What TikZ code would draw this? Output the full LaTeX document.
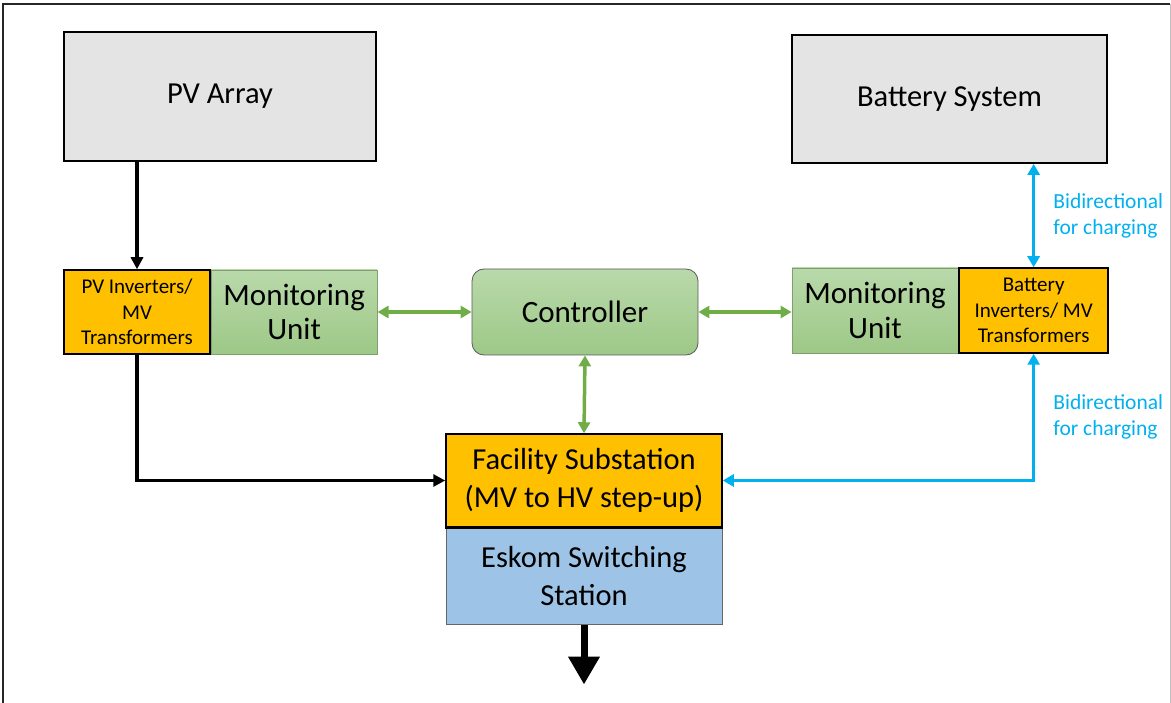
\documentclass[tikz,border=0pt]{standalone}
\usepackage{fontspec}
\setmainfont{Carlito}
\usetikzlibrary{positioning,arrows.meta,calc}

\definecolor{boxgray}{HTML}{E4E4E4}
\definecolor{amber}{HTML}{FFC000}
\definecolor{leafup}{HTML}{B9D9AA}
\definecolor{leafdown}{HTML}{9DC887}
\definecolor{leafedge}{HTML}{7F9F70}
\definecolor{leafline}{HTML}{70AD47}
\definecolor{skyline}{HTML}{00B0F0}
\definecolor{paleblue}{HTML}{9DC3E6}

\begin{document}
\begin{tikzpicture}[
x=1pt, y=-1pt,
block/.style={
  draw=black,
  line width=1.8pt,
  fill=boxgray,
  inner sep=0pt,
  align=center,
  font=\fontsize{30.5}{36}\selectfont
  },
inverter/.style={
  draw=black,
  line width=1.5pt,
  fill=amber,
  inner sep=0pt,
  align=center,
  font=\fontsize{21}{25.5}\selectfont
  },
monitor/.style={
  draw=leafedge,
  line width=0.8pt,
  top color=leafup,
  bottom color=leafdown,
  inner sep=0pt,
  align=center,
  minimum width=166pt,
  minimum height=84pt,
  font=\fontsize{31}{34.5}\selectfont
  },
station/.style={
  draw=black,
  line width=1.5pt,
  inner sep=0pt,
  align=center,
  minimum width=276pt,
  font=\fontsize{30.5}{37.5}\selectfont
  },
flow/.style={
  draw=black,
  line width=3.5pt,
  -{Triangle[length=12pt,width=12pt]}
  },
link/.style={
  draw=leafline,
  line width=3.5pt,
  {Triangle[length=11pt,width=12pt]}-{Triangle[length=11pt,width=12pt]}
  },
charge/.style={
  draw=skyline,
  line width=3.5pt,
  {Triangle[length=11pt,width=12pt]}-{Triangle[length=11pt,width=12pt]}
  },
note/.style={
  text=skyline,
  inner sep=0pt,
  align=left,
  font=\fontsize{21.5}{26}\selectfont
  }
]
\useasboundingbox (0,0) rectangle (1171,703);
% frame
\draw[line width=2.2pt, black!85] (3,720) -- (3,4) -- (1170,4);
\draw[line width=1pt, black!25] (1170,4) -- (1170,720);

% top row
\node[block, minimum width=312pt, minimum height=129pt] (pv)
  at (220,96.5) {PV Array};
\node[block, minimum width=315pt, minimum height=128pt] (bat)
  at (949.5,99) {Battery System};

% middle row
\node[inverter, minimum width=146pt, minimum height=84pt] (pvinv)
  at (137,312) {PV Inverters/\\MV\\Transformers};
\node[monitor, right=0pt of pvinv] (monpv) {Monitoring\\Unit};
\node[monitor, draw=black!65, rounded corners=12pt,
  minimum width=226pt, minimum height=86pt] (ctrl)
  at (585,312) {Controller};
\node[monitor, minimum height=85pt] (monbat)
  at (875,310.5) {Monitoring\\Unit};
\node[inverter, minimum width=149pt, minimum height=85pt,
  right=0pt of monbat] (batinv) {Battery\\Inverters/ MV\\Transformers};

% bottom
\node[station, fill=amber, minimum height=93pt] (fac)
  at (584,480.5) {Facility Substation\\(MV to HV step-up)};
\node[station, draw=black!60, line width=0.8pt, fill=paleblue,
  minimum height=96pt, below=0pt of fac] (esk) {Eskom Switching\\Station};
\draw[black, line width=1.5pt] (fac.south west) -- (fac.south east);

% connections
\draw[flow] (pvinv.north |- pv.south) -- (pvinv.north);
\draw[flow] (pvinv.south) |- (fac.west);
\draw[link] (monpv.east) -- (ctrl.west);
\draw[link] (ctrl.east) -- (ctrl.east -| monbat.west);
\draw[link] (ctrl.south) -- (fac.north);
\draw[charge] (batinv.north |- bat.south) -- node[note, right=18pt] (tagup)
  {Bidirectional\\for charging} (batinv.north);
\draw[charge] (batinv.south) -- node[note, right=18pt] (tagdown)
  {Bidirectional\\for charging} (batinv.south |- fac.east) -- (fac.east);
\draw[line width=7pt, -{Triangle[length=28pt,width=30pt]}]
  (esk.south) -- ++(0,60);
\end{tikzpicture}
\end{document}
